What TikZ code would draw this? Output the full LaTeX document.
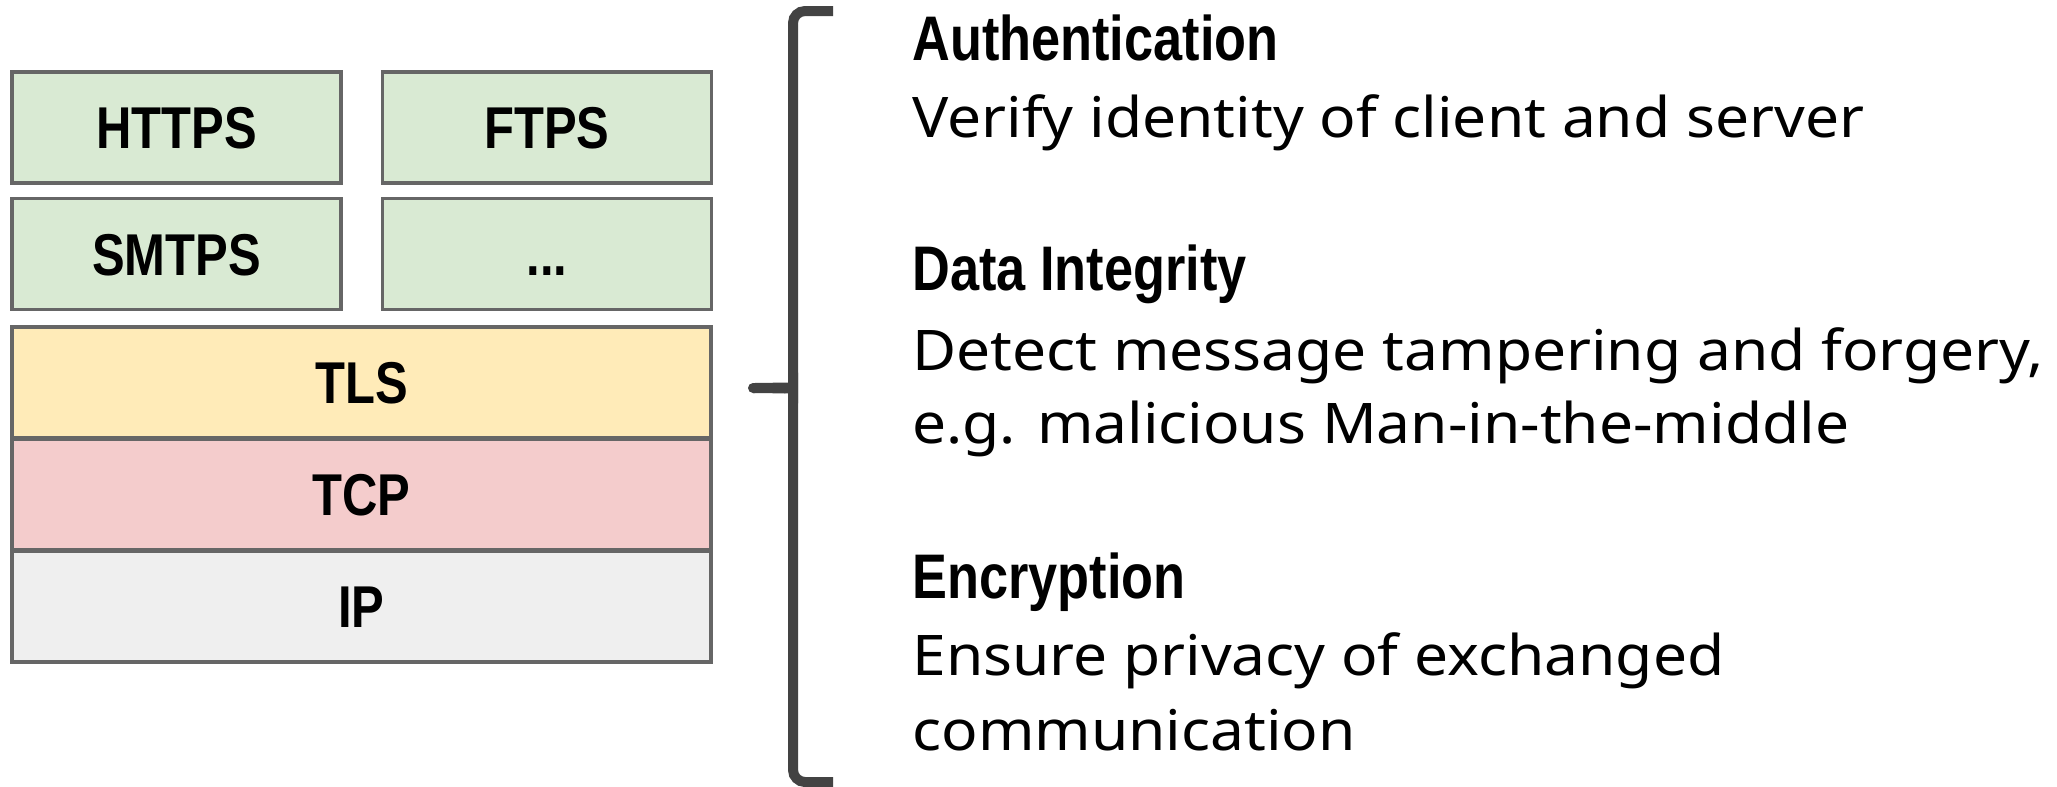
\documentclass[tikz,border=0pt]{standalone}
\usepackage{fontspec}
\setmainfont{Noto Sans}
\newfontfamily\labelfont[FakeStretch=0.83]{Liberation Sans}
\newfontfamily\bodyfont[FakeStretch=1.08]{Noto Sans}
\definecolor{appgreen}{HTML}{D9EAD3}
\definecolor{tlsyellow}{HTML}{FFEBB8}
\definecolor{tcppink}{HTML}{F4CCCC}
\definecolor{ipgray}{HTML}{EFEFEF}
\definecolor{edgegray}{HTML}{666666}
\definecolor{bracegray}{HTML}{434343}
\tikzset{
  layer/.style={draw=edgegray, line width=1.6pt, rectangle, inner sep=0pt,
    text height=21pt, text depth=0pt,
    minimum height=55.5pt, font=\labelfont\bfseries\fontsize{29.5}{30}\selectfont},
  halfbox/.style={layer, fill=appgreen, minimum width=164.5pt},
  fullbox/.style={layer, minimum width=349.5pt},
  heading/.style={anchor=base west, inner sep=0pt, font=\labelfont\bfseries\fontsize{31.5}{32}\selectfont},
  bodyline/.style={anchor=base west, inner sep=0pt, font=\bodyfont\fontsize{28}{30}\selectfont},
}
\begin{document}
\begin{tikzpicture}[x=0.5pt,y=-0.5pt]
\useasboundingbox (0,0) rectangle (2057,787);
% protocol stack
\node[halfbox] (https) at (176.5,127.5) {HTTPS};
\node[halfbox] (ftps)  at (547,127.5) {FTPS};
\node[halfbox] (smtps) at (176.5,254) {SMTPS};
\node[halfbox] (more)  at (547,254) {...};
\node[fullbox, fill=tlsyellow] (tls) at (361.5,382.5) {TLS};
\node[fullbox, fill=tcppink] (tcp) at (361.5,494.5) {TCP};
\node[fullbox, fill=ipgray] (ip) at (361.5,606.5) {IP};
% curly brace
\coordinate (btop) at (833,11);
\coordinate (bbot) at (833,782);
\coordinate (btip) at (753,388);
\draw[bracegray, line width=5pt, line cap=butt, rounded corners=6pt]
  (btop) -- (793,11) -- (793,378) .. controls (793,386) and (785,388) .. (btip);
\draw[bracegray, line width=5pt, line cap=butt, rounded corners=6pt]
  (bbot) -- (793,782) -- (793,398) .. controls (793,390) and (785,388) .. (btip);
\fill[bracegray] (btip) circle (2.5pt);
% feature descriptions
\node[heading]  (auth)  at (912,61)  {Authentication};
\node[bodyline] (authd) at (912,137) {Verify identity of client and server};
\node[heading]  (integ) at (912,290) {Data Integrity};
\node[bodyline] (intega) at (912,370) {Detect message tampering and forgery,};
\node[bodyline] (integb) at (912,443) {e.g. malicious Man-in-the-middle};
\node[heading]  (enc)   at (912,598) {Encryption};
\node[bodyline] (enca)  at (912,675) {Ensure privacy of exchanged};
\node[bodyline] (encb)  at (912,750) {communication};
\end{tikzpicture}
\end{document}
